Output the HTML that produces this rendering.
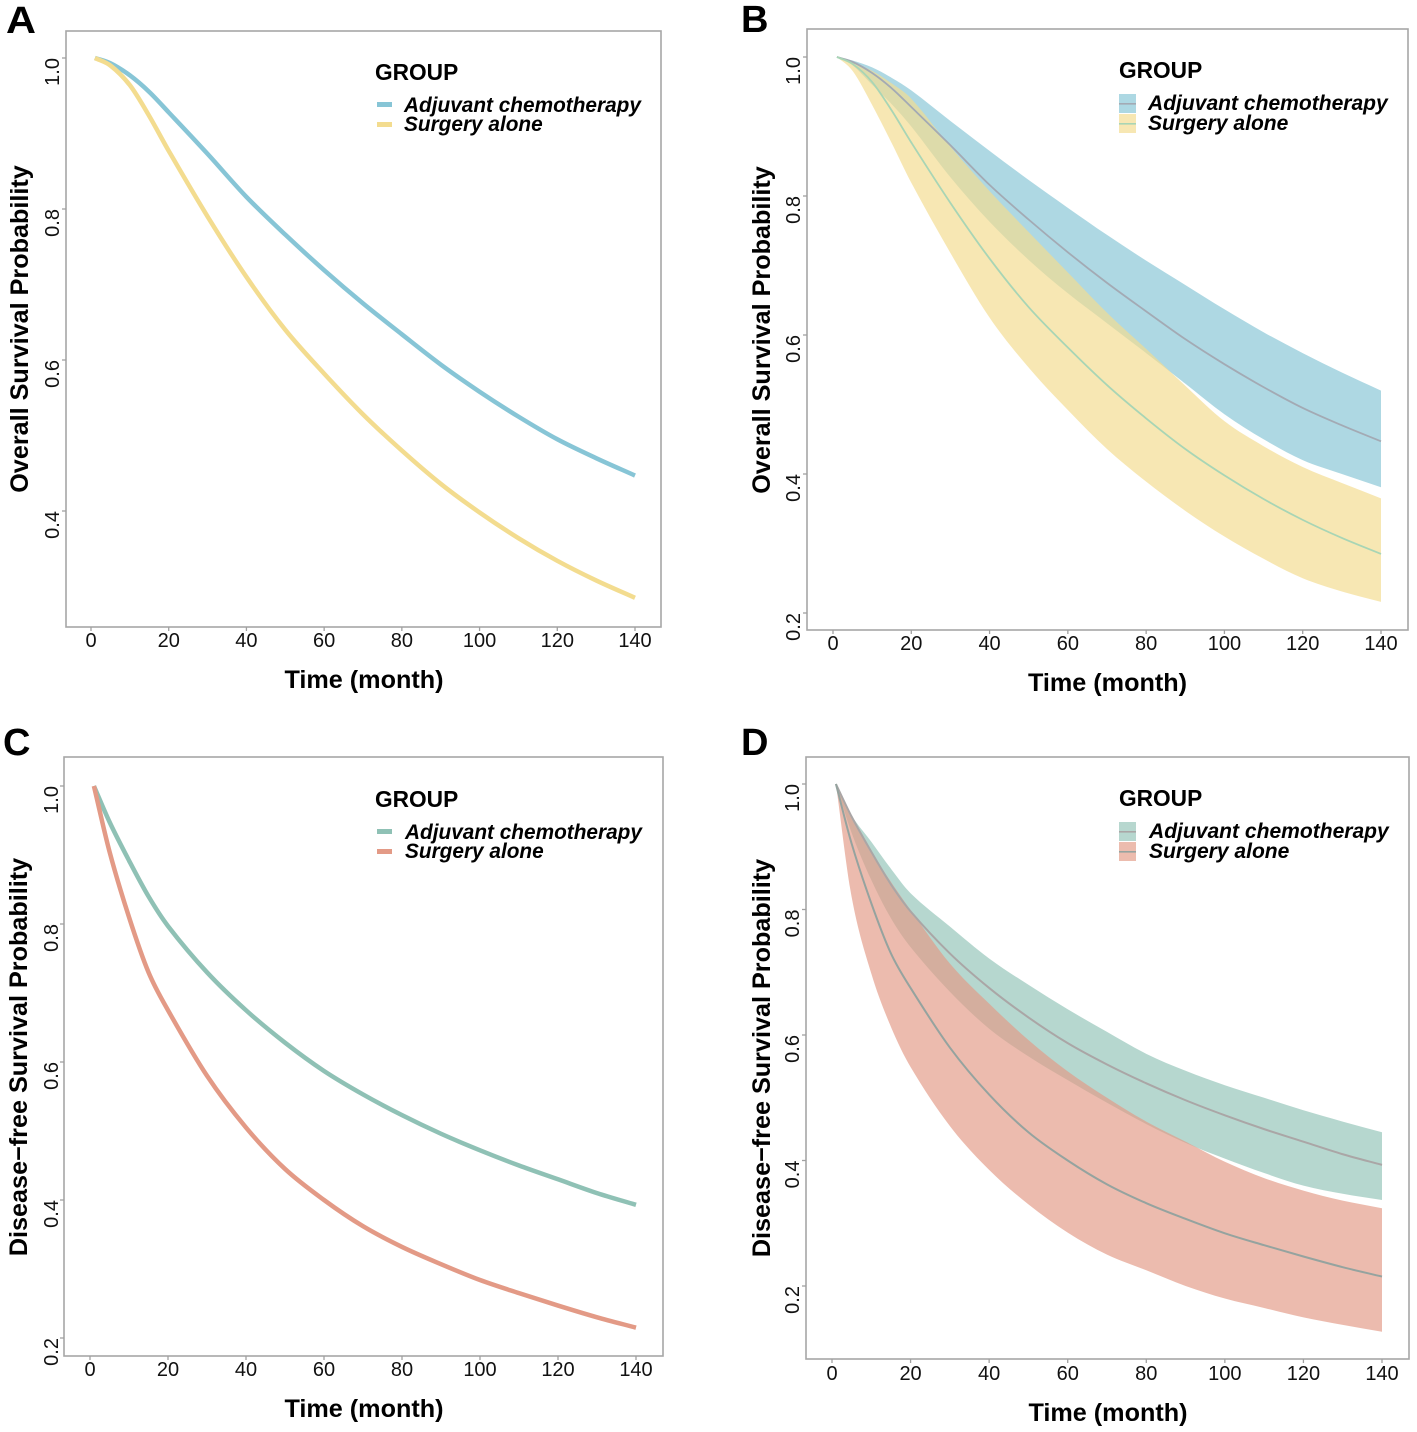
<!DOCTYPE html>
<html lang="en">
<head>
<meta charset="utf-8">
<title>Survival curves by group</title>
<style>
html,body{margin:0;padding:0;background:#fff;}
svg{display:block;font-family:"Liberation Sans",sans-serif;}
.tag{font-size:38px;font-weight:700;fill:#000;}
.xt,.yt{font-size:25.2px;font-weight:700;fill:#000;}
.yt{text-anchor:middle;}
.xt{text-anchor:middle;}
.gt{font-size:22.7px;font-weight:700;fill:#000;}
.lg{font-size:20.8px;font-weight:700;font-style:italic;fill:#000;}
.lg2{font-size:21.05px;font-weight:700;font-style:italic;fill:#000;}
.tick{font-size:20px;fill:#111;}
</style>
</head>
<body>
<svg id="fig" width="1417" height="1432" viewBox="0 0 1417 1432" xmlns="http://www.w3.org/2000/svg">
  <rect width="1417" height="1432" fill="#fff"/>
  <g id="plots"></g>

  <text class="tag" x="6" y="33" textLength="30" lengthAdjust="spacingAndGlyphs">A</text>
  <text class="tag" x="741" y="32">B</text>
  <text class="tag" x="3" y="755">C</text>
  <text class="tag" x="741" y="755">D</text>

  <text class="xt" x="364" y="688">Time (month)</text>
  <text class="xt" x="1107.5" y="691">Time (month)</text>
  <text class="xt" x="364" y="1417">Time (month)</text>
  <text class="xt" x="1108" y="1421">Time (month)</text>

  <text class="yt" transform="translate(28,329) rotate(-90)">Overall Survival Probability</text>
  <text class="yt" transform="translate(770,330) rotate(-90)">Overall Survival Probability</text>
  <text class="yt" transform="translate(27,1057) rotate(-90)">Disease−free Survival Probability</text>
  <text class="yt" transform="translate(770,1058) rotate(-90)">Disease−free Survival Probability</text>

  <g>
    <text class="gt" x="375" y="80">GROUP</text>
    <rect x="377" y="102" width="15" height="5" fill="#87c5d6"/>
    <rect x="377" y="122" width="15" height="5" fill="#f3dc8f"/>
    <text class="lg" x="404" y="112">Adjuvant chemotherapy</text>
    <text class="lg" x="404" y="131">Surgery alone</text>
  </g>
  <g>
    <text class="gt" x="1119" y="78">GROUP</text>
    <rect x="1119" y="94" width="17" height="19" fill="#add8e3"/>
    <rect x="1119" y="114" width="17" height="19" fill="#f7e7b3"/>
    <rect x="1119" y="103" width="17" height="1.6" fill="#a3aab4"/>
    <rect x="1119" y="123" width="17" height="1.6" fill="#a8d5b5"/>
    <text class="lg2" x="1148" y="110">Adjuvant chemotherapy</text>
    <text class="lg2" x="1148" y="130">Surgery alone</text>
  </g>
  <g>
    <text class="gt" x="375" y="807">GROUP</text>
    <rect x="377" y="829" width="15" height="5" fill="#8fc1b5"/>
    <rect x="377" y="849" width="15" height="5" fill="#e39a86"/>
    <text class="lg" x="405" y="839">Adjuvant chemotherapy</text>
    <text class="lg" x="405" y="858">Surgery alone</text>
  </g>
  <g>
    <text class="gt" x="1119" y="806">GROUP</text>
    <rect x="1119" y="822" width="17" height="19" fill="#b7d7cf"/>
    <rect x="1119" y="842" width="17" height="19" fill="#ecbcae"/>
    <rect x="1119" y="831" width="17" height="1.6" fill="#aaa6a6"/>
    <rect x="1119" y="851" width="17" height="1.6" fill="#95a39f"/>
    <text class="lg2" x="1149" y="838">Adjuvant chemotherapy</text>
    <text class="lg2" x="1149" y="858">Surgery alone</text>
  </g>
</svg>

<script>
var times = [1, 5, 10, 15, 20, 30, 40, 50, 60, 70, 80, 90, 100, 110, 120, 130, 140];

var osAdjuvant = [1, .993, .977, .955, .928, .873, .816, .766, .719, .675, .634, .594, .558, .525, .495, .47, .447];
var osSurgery = [1, .99, .964, .923, .877, .79, .71, .64, .582, .528, .48, .436, .398, .364, .334, .308, .285];
var osAdjuvantUpper = [1, .995, .985, .97, .952, .908, .865, .823, .783, .744, .707, .672, .637, .604, .574, .546, .52];
var osAdjuvantLower = [1, .988, .96, .932, .9, .827, .763, .708, .66, .617, .574, .53, .486, .45, .42, .4, .381];
var osSurgeryUpper = [1, .992, .98, .962, .94, .871, .807, .748, .69, .632, .58, .527, .476, .44, .41, .387, .365];
var osSurgeryLower = [1, .98, .931, .876, .819, .718, .625, .553, .492, .436, .389, .347, .31, .278, .25, .231, .216];

var dfsAdjuvant = [1, .948, .892, .84, .797, .73, .675, .628, .587, .553, .523, .496, .472, .45, .43, .41, .393];
var dfsSurgery = [1, .905, .81, .73, .675, .58, .505, .445, .4, .362, .332, .307, .284, .265, .247, .23, .215];
var dfsAdjuvantUpper = [1, .95, .908, .865, .826, .773, .722, .68, .641, .605, .57, .543, .52, .5, .48, .462, .445];
var dfsAdjuvantLower = [1, .922, .847, .786, .74, .669, .61, .566, .528, .492, .458, .428, .403, .38, .36, .347, .337];
var dfsSurgeryUpper = [1, .945, .892, .844, .799, .714, .65, .592, .542, .5, .462, .43, .398, .372, .352, .336, .324];
var dfsSurgeryLower = [1, .82, .698, .613, .549, .455, .385, .33, .285, .25, .225, .2, .18, .165, .15, .138, .127];

var xTicks = [0, 20, 40, 60, 80, 100, 120, 140];
var yTicksOS = [1.0, 0.8, 0.6, 0.4];
var yTicksWide = [1.0, 0.8, 0.6, 0.4, 0.2];

var NS = 'http://www.w3.org/2000/svg';
var plots = document.getElementById('plots');

function linear(d0, d1, r0, r1) {
  return function (v) { return r0 + (v - d0) * (r1 - r0) / (d1 - d0); };
}

function node(parent, tag, attrs) {
  var el = document.createElementNS(NS, tag);
  for (var k in attrs) el.setAttribute(k, attrs[k]);
  parent.appendChild(el);
  return el;
}

function pointsOf(xs, ys, sx, sy) {
  return xs.map(function (t, i) { return [sx(t), sy(ys[i])]; });
}

function tangent(pts, i) {
  var a = pts[Math.max(i - 1, 0)], b = pts[Math.min(i + 1, pts.length - 1)];
  var run = Math.abs(b[0] - a[0]);
  return [(b[0] - a[0]) / run, (b[1] - a[1]) / run];
}

function smooth(pts, move) {
  var d = (move ? 'M' : 'L') + pts[0][0].toFixed(2) + ' ' + pts[0][1].toFixed(2);
  for (var i = 0; i < pts.length - 1; i++) {
    var p1 = pts[i], p2 = pts[i + 1];
    var h = Math.abs(p2[0] - p1[0]) / 3;
    var t1 = tangent(pts, i), t2 = tangent(pts, i + 1);
    var c1x = p1[0] + t1[0] * h, c1y = p1[1] + t1[1] * h;
    var c2x = p2[0] - t2[0] * h, c2y = p2[1] - t2[1] * h;
    d += 'C' + c1x.toFixed(2) + ' ' + c1y.toFixed(2) + ' ' + c2x.toFixed(2) + ' ' + c2y.toFixed(2) + ' ' + p2[0].toFixed(2) + ' ' + p2[1].toFixed(2);
  }
  return d;
}

function drawBand(g, name, upper, lower, sx, sy, color, alpha) {
  var up = pointsOf(times, upper, sx, sy);
  var lo = pointsOf(times, lower, sx, sy).reverse();
  var el = node(g, 'path', { d: smooth(up, true) + smooth(lo, false) + 'Z', fill: color, 'fill-opacity': alpha });
  
  
}

function drawLine(g, name, values, sx, sy, color, width) {
  var el = node(g, 'path', { d: smooth(pointsOf(times, values, sx, sy), true), fill: 'none', stroke: color, 'stroke-width': width });
  
  
}

function drawAxes(g, id, box, sx, sy, yTicks) {
  var frame = node(g, 'rect', { x: box.l, y: box.t, width: box.r - box.l, height: box.b - box.t, fill: 'none', stroke: '#a6a6a6', 'stroke-width': 1.6 });
  
  
  xTicks.forEach(function (t) {
    var x = sx(t);
    var mark = node(g, 'line', { x1: x, x2: x, y1: box.b, y2: box.b + 4, stroke: '#a0a0a0', 'stroke-width': 1.3 });
    
    
    var label = node(g, 'text', { x: x, y: box.xLabel, 'text-anchor': 'middle', 'class': 'tick' });
    
    
    label.textContent = String(t);
  });
  yTicks.forEach(function (v) {
    var y = sy(v);
    var mark = node(g, 'line', { x1: box.l - 4, x2: box.l, y1: y, y2: y, stroke: '#a0a0a0', 'stroke-width': 1.3 });
    
    
    var label = node(g, 'text', { transform: 'translate(' + box.yLabel + ',' + y + ') rotate(-90)', 'text-anchor': 'end', 'class': 'tick' });
    
    
    label.textContent = v.toFixed(1);
  });
}

function panel(id, box, yTicks) {
  var g = node(plots, 'g', {});
  
  
  var api = {
    g: g,
    sx: linear(0, 140, box.x0, box.x140),
    sy: linear(1, 0.8, box.y10, box.y08)
  };
  api.axes = function () { drawAxes(g, id, box, api.sx, api.sy, yTicks); };
  return api;
}

var a = panel('a', { l: 66, r: 661, t: 31, b: 627, x0: 91, x140: 635, y10: 58, y08: 209, xLabel: 647, yLabel: 59 }, yTicksOS);
a.axes();
drawLine(a.g, 'curve-adjuvant-a', osAdjuvant, a.sx, a.sy, '#87c5d6', 4.5);
drawLine(a.g, 'curve-surgery-a', osSurgery, a.sx, a.sy, '#f3dc8f', 4.5);

var b = panel('b', { l: 807, r: 1408, t: 29, b: 630, x0: 833, x140: 1381, y10: 57, y08: 196, xLabel: 650, yLabel: 800 }, yTicksWide);
b.axes();
drawBand(b.g, 'band-adjuvant-b', osAdjuvantUpper, osAdjuvantLower, b.sx, b.sy, '#87c5d6', 0.68);
drawBand(b.g, 'band-surgery-b', osSurgeryUpper, osSurgeryLower, b.sx, b.sy, '#f3dc8f', 0.68);
drawLine(b.g, 'curve-adjuvant-b', osAdjuvant, b.sx, b.sy, '#a3aab4', 1.8);
drawLine(b.g, 'curve-surgery-b', osSurgery, b.sx, b.sy, '#a8d5b5', 1.8);

var c = panel('c', { l: 64, r: 663, t: 757, b: 1356, x0: 90, x140: 636, y10: 786, y08: 924, xLabel: 1376, yLabel: 58 }, yTicksWide);
c.axes();
drawLine(c.g, 'curve-adjuvant-c', dfsAdjuvant, c.sx, c.sy, '#8fc1b5', 4.5);
drawLine(c.g, 'curve-surgery-c', dfsSurgery, c.sx, c.sy, '#e39a86', 4.5);

var d = panel('d', { l: 806, r: 1409, t: 757, b: 1359, x0: 832, x140: 1382, y10: 784, y08: 909.5, xLabel: 1380, yLabel: 799 }, yTicksWide);
d.axes();
drawBand(d.g, 'band-adjuvant-d', dfsAdjuvantUpper, dfsAdjuvantLower, d.sx, d.sy, '#8fc1b5', 0.65);
drawBand(d.g, 'band-surgery-d', dfsSurgeryUpper, dfsSurgeryLower, d.sx, d.sy, '#e39a86', 0.67);
drawLine(d.g, 'curve-adjuvant-d', dfsAdjuvant, d.sx, d.sy, '#aaa6a6', 2);
drawLine(d.g, 'curve-surgery-d', dfsSurgery, d.sx, d.sy, '#95a39f', 2);
</script>
</body>
</html>
